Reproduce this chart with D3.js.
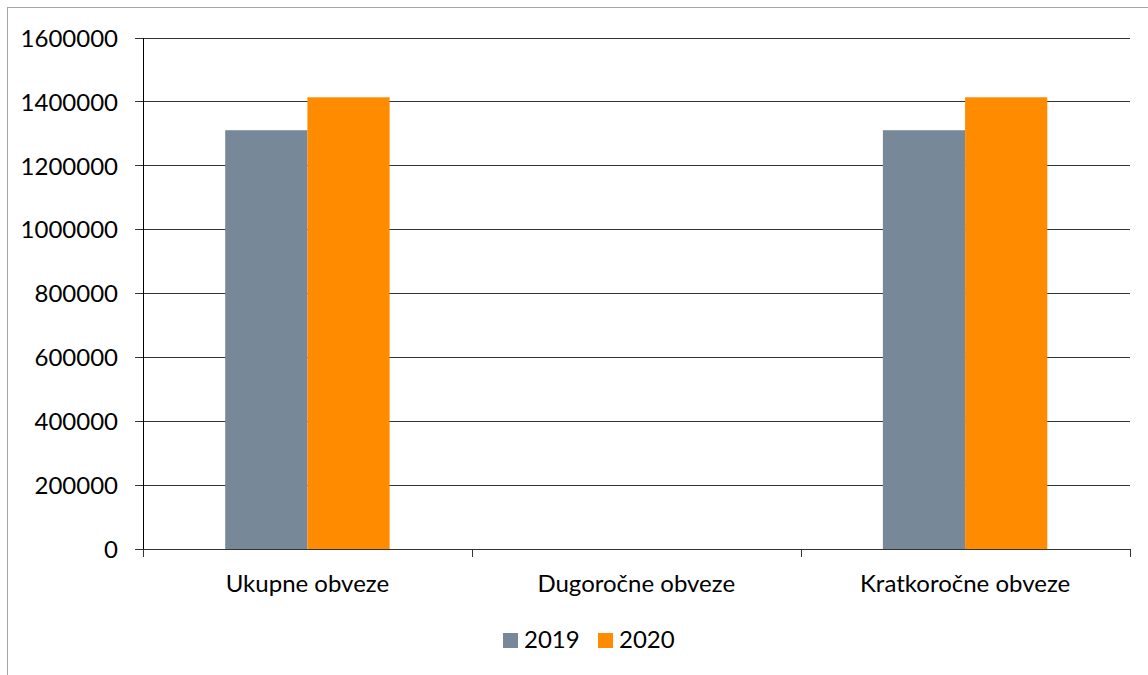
<!DOCTYPE html>
<html><head><meta charset="utf-8">
<script src="https://cdn.jsdelivr.net/npm/d3@7"></script>
<style>html,body{margin:0;padding:0;background:#fff;overflow:hidden}</style>
</head><body>
<svg id="c" width="1148" height="675"></svg>
<script>
const categories = ["Ukupne obveze", "Dugoročne obveze", "Kratkoročne obveze"];
const seriesNames = ["2019", "2020"];
const values2019 = [1310000, 0, 1310000];
const values2020 = [1413000, 0, 1413000];
const colors = ["#778899", "#FF8C00"];
const yTicks = [0, 200000, 400000, 600000, 800000, 1000000, 1200000, 1400000, 1600000];

const FONT = "Lato, 'Open Sans', sans-serif";
const FS = "24px";
const svg = d3.select("#c");
const mLeft = 143, mRight = 1129.5, mTop = 37.5, mBottom = 549;

// frame
svg.append("rect").attr("x", 7.5).attr("y", 7.5).attr("width", 1200).attr("height", 800)
  .attr("fill", "none").attr("stroke", "#a6a6a6").attr("stroke-width", 1);

const y = d3.scaleLinear().domain([0, 1600000]).range([mBottom, mTop]);
const x = d3.scaleBand().domain(categories).range([mLeft, mRight]).padding(0);
const xs = d3.scaleBand().domain(seriesNames).range([x.bandwidth() * 0.25, x.bandwidth() * 0.75]).padding(0);

// gridlines
const gy = svg.append("g").attr("transform", `translate(${mLeft},0)`)
  .call(d3.axisLeft(y).tickValues(yTicks).tickSize(-(mRight - mLeft)).tickFormat(""));
gy.select(".domain").remove();
gy.selectAll("line").attr("stroke", "#333").attr("shape-rendering", "crispEdges");

// bars
const data = categories.map((c, i) => ({ c, v: [values2019[i], values2020[i]] }));
const groups = svg.append("g").selectAll("g").data(data).join("g")
  .attr("transform", d => `translate(${x(d.c)},0)`);
groups.selectAll("rect").data(d => d.v.map((v, j) => ({ s: seriesNames[j], v, j })))
  .join("rect")
  .attr("x", d => xs(d.s)).attr("width", xs.bandwidth())
  .attr("y", d => y(d.v)).attr("height", d => y(0) - y(d.v))
  .attr("fill", d => colors[d.j]);

// y axis
const ya = svg.append("g").attr("transform", `translate(${mLeft},0)`)
  .call(d3.axisLeft(y).tickValues(yTicks).tickSize(8).tickPadding(17).tickFormat(d3.format("d")));
ya.select(".domain").attr("d", `M0,${mTop}V${mBottom + 7}`).attr("stroke", "#000").attr("shape-rendering", "crispEdges");
ya.selectAll("line").attr("stroke", "#333").attr("shape-rendering", "crispEdges");
ya.selectAll("text").attr("font-family", FONT).attr("font-size", FS).attr("fill", "#000").attr("dy", "0.36em");

// x axis
const xa = svg.append("g").attr("transform", `translate(0,${mBottom})`)
  .call(d3.axisBottom(x).tickSize(0).tickPadding(0));
xa.select(".domain").attr("d", `M${mLeft},0H${mRight}`).attr("stroke", "#333").attr("shape-rendering", "crispEdges");
xa.selectAll(".tick line").remove();
xa.selectAll("text").attr("font-family", FONT).attr("font-size", FS).attr("fill", "#000")
  .attr("y", 43).attr("dy", null);
// category separators
const seps = [mLeft, ...categories.map(c => x(c) + x.bandwidth())];
svg.append("g").selectAll("line").data(seps).join("line")
  .attr("x1", d => Math.round(d) + 0.5).attr("x2", d => Math.round(d) + 0.5)
  .attr("y1", mBottom).attr("y2", mBottom + 8).attr("stroke", "#333");

// legend
const legendX = [503, 598];
const lg = svg.append("g").selectAll("g").data(seriesNames).join("g")
  .attr("transform", (d, i) => `translate(${legendX[i]},633)`);
lg.append("rect").attr("width", 15).attr("height", 15).attr("fill", (d, i) => colors[i]);
lg.append("text").attr("x", 21).attr("y", 14.5).text(d => d)
  .attr("font-family", FONT).attr("font-size", FS).attr("fill", "#000");
</script>
</body></html>
